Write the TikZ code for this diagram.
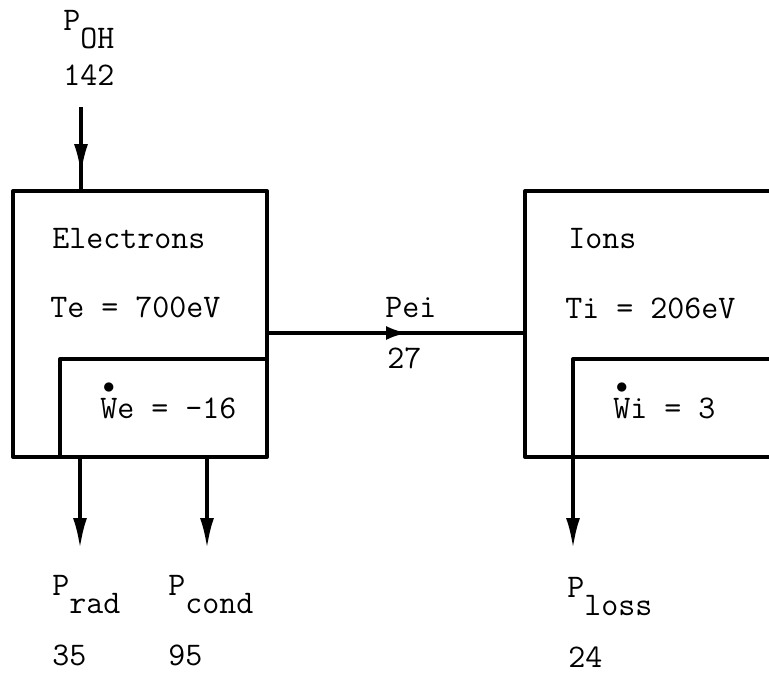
\documentclass[tikz,border=0pt]{standalone}
\usetikzlibrary{arrows.meta}

\newcommand{\lowsub}[1]{\raisebox{-9pt}{#1}}
\newcommand{\wdot}[1]{\ensuremath{\stackrel{\bullet}{\mbox{#1}}}}

\tikzset{
  box/.style={line width=2pt, line join=round},
  flow/.style={line width=1.6pt, -{Latex[length=15pt,width=7pt]}},
  wire/.style={line width=1.6pt},
  lbl/.style={anchor=base west, inner sep=0pt, font=\ttfamily\fontsize{16.5}{18}\selectfont},
}

\begin{document}
\begin{tikzpicture}[x=0.5pt,y=-0.5pt]

\useasboundingbox (0,0) rectangle (769,675);
\clip (0,0) rectangle (769,675);

% Electrons
\draw[box] (13,191) rectangle (267,457);
\draw[box] (60,457) -- (60,359) -- (267,359);

% Ions
\draw[box] (800,191) -- (525,191) -- (525,457) -- (800,457);
\draw[box] (800,359) -- (573,359) -- (573,457);

% connector points
\coordinate (ohtop) at (81,107);
\coordinate (ohtip) at (81,174);
\coordinate (ohin) at (81,191);
\coordinate (eout) at (267,333);
\coordinate (peitip) at (408,333);
\coordinate (iin) at (525,333);
\coordinate (radout) at (80,457);
\coordinate (radtip) at (80,548);
\coordinate (condout) at (207,457);
\coordinate (condtip) at (207,548);
\coordinate (lossout) at (573,457);
\coordinate (losstip) at (573,548);

\draw[wire] (ohtop) -- (ohin);
\draw[flow] (ohtop) -- (ohtip);
\draw[box] (eout) -- (iin);
\draw[box, -{Latex[length=11pt,width=7pt]}] (eout) -- (peitip);
\draw[flow] (radout) -- (radtip);
\draw[flow] (condout) -- (condtip);
\draw[flow] (lossout) -- (losstip);

% texts
\node[lbl] (poh) at (63,30) {P\lowsub{OH}};
\node[lbl] (pohval) at (63,85) {142};
\node[lbl] (elec) at (52,248) {Electrons};
\node[lbl] (te) at (50,317) {Te = 700eV};
\node[lbl] (we) at (100,418) {\wdot{W}e = -16};
\node[lbl] (pei) at (385,317) {Pei};
\node[lbl] (peival) at (387,368) {27};
\node[lbl] (ions) at (568,248) {Ions};
\node[lbl] (ti) at (565,318) {Ti = 206eV};
\node[lbl] (wi) at (613,418) {\wdot{W}i = 3};
\node[lbl] (prad) at (52,595) {P\lowsub{rad}};
\node[lbl] (radval) at (52,665) {35};
\node[lbl] (pcond) at (168,595) {P\lowsub{cond}};
\node[lbl] (condval) at (168,665) {95};
\node[lbl] (ploss) at (567,597) {P\lowsub{loss}};
\node[lbl] (lossval) at (568,667) {24};

\end{tikzpicture}
\end{document}
